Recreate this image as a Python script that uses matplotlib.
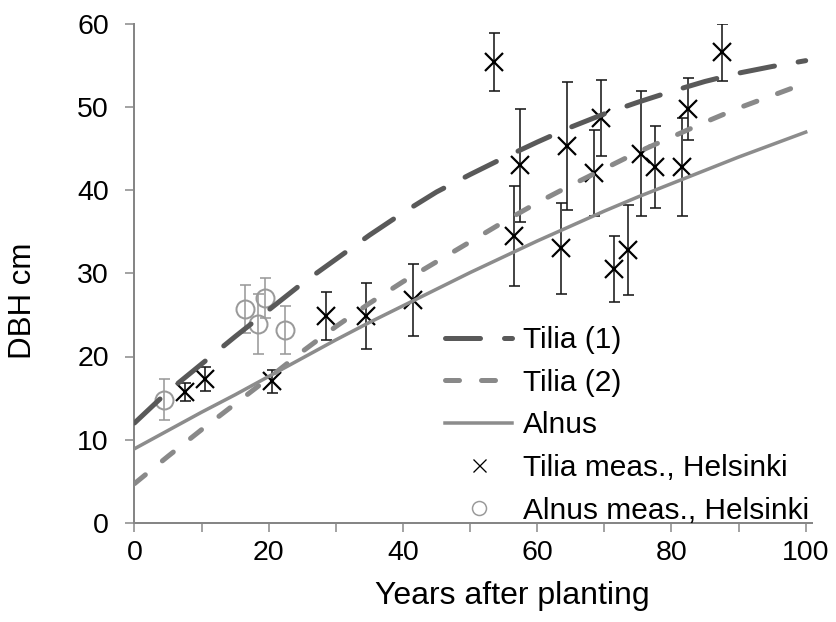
import matplotlib
matplotlib.use("Agg")
import matplotlib.pyplot as plt
from matplotlib.lines import Line2D

plt.rcParams['font.family'] = ['Liberation Sans', 'DejaVu Sans']
plt.rcParams['lines.scale_dashes'] = False

# ---- data ----
years = [0, 5, 10, 15, 20, 25, 30, 35, 40, 45, 50, 55, 60, 65, 70, 75, 80, 85, 90, 95, 100]
tilia1 = [12.0, 15.8, 19.1, 22.4, 25.6, 28.8, 31.7, 34.6, 37.3, 39.8, 41.9, 43.9,
          45.8, 47.6, 49.2, 50.6, 51.9, 53.1, 54.1, 54.9, 55.6]
tilia2 = [4.7, 8.0, 11.2, 14.3, 17.4, 20.6, 23.6, 26.4, 29.0, 31.4, 33.8, 36.2,
          38.5, 40.6, 42.6, 44.6, 46.4, 48.2, 49.9, 51.4, 52.9]
alnus = [8.9, 11.1, 13.3, 15.4, 17.6, 19.8, 22.0, 24.1, 26.1, 28.1, 30.1, 32.0,
         33.9, 35.7, 37.5, 39.2, 40.8, 42.4, 44.0, 45.5, 47.0]

tilia_meas_x = [7.5, 10.5, 20.5, 28.5, 34.5, 41.5, 53.5, 56.5, 57.5, 63.5, 64.5,
                68.5, 69.5, 71.5, 73.5, 75.5, 77.5, 81.5, 82.5, 87.5]
tilia_meas_y = [15.7, 17.3, 17.0, 24.9, 24.9, 26.8, 55.4, 34.5, 43.0, 33.0, 45.3,
                42.1, 48.7, 30.5, 32.8, 44.4, 42.8, 42.8, 49.8, 56.6]
tilia_meas_err = [1.1, 1.45, 1.4, 2.9, 4.0, 4.3, 3.5, 6.0, 6.8, 5.5, 7.7,
                  5.2, 4.6, 4.0, 5.4, 7.5, 4.9, 5.9, 3.7, 3.4]

alnus_meas_x = [4.4, 16.5, 18.4, 19.4, 22.4]
alnus_meas_y = [14.8, 25.7, 23.9, 27.0, 23.2]
alnus_meas_err = [2.45, 2.85, 3.65, 2.4, 2.9]

labels = ["Tilia (1)", "Tilia (2)", "Alnus", "Tilia meas., Helsinki", "Alnus meas., Helsinki"]
x_ticks = [0, 20, 40, 60, 80, 100]
y_ticks = [0, 10, 20, 30, 40, 50, 60]

# ---- styles ----
c_t1 = '#595959'
c_t2 = '#898989'
c_al = '#8c8c8c'
c_circ = '#9a9a9a'
axis_col = '#868686'
px = 0.72  # points per pixel at dpi 100

W, H = 837, 622
fig = plt.figure(figsize=(W / 100, H / 100), dpi=100)
x0, y0 = 134.5, 522.7
xpix_per = 6.712
ypix_per = 8.31
xmax = 100.9
ax = fig.add_axes([x0 / W, (H - y0) / H, xmax * xpix_per / W, 60 * ypix_per / H])

t1_style = dict(color=c_t1, lw=5 * px, linestyle=(0, (35 * px, 24 * px)),
                dash_capstyle='round', solid_capstyle='round')
t2_style = dict(color=c_t2, lw=5 * px, linestyle=(0, (14 * px, 22 * px)),
                dash_capstyle='round', solid_capstyle='round')
al_style = dict(color=c_al, lw=3.5 * px, linestyle='-')

# error bars & markers
ax.errorbar(tilia_meas_x, tilia_meas_y, yerr=tilia_meas_err, fmt='none',
            ecolor='#1a1a1a', elinewidth=1.6 * px, capsize=5.5 * px, capthick=1.6 * px, zorder=2)
ax.errorbar(alnus_meas_x, alnus_meas_y, yerr=alnus_meas_err, fmt='none',
            ecolor=c_circ, elinewidth=1.6 * px, capsize=5.5 * px, capthick=1.6 * px, zorder=2)
ax.plot(tilia_meas_x, tilia_meas_y, linestyle='none', marker='x', color='black',
        markersize=18 * px, markeredgewidth=2.2 * px, zorder=3)
ax.plot(alnus_meas_x, alnus_meas_y, linestyle='none', marker='o', markerfacecolor='none',
        markeredgecolor=c_circ, markersize=18 * px, markeredgewidth=2 * px, zorder=3)

# model curves
ax.plot(years, tilia1, zorder=4, **t1_style)
ax.plot(years, tilia2, zorder=4, **t2_style)
ax.plot(years, alnus, zorder=4, **al_style)

ax.set_xlim(0, xmax)
ax.set_ylim(0, 60)
ax.set_xticks(x_ticks)
ax.set_xticks([10, 30, 50, 70, 90], minor=True)
ax.set_yticks(y_ticks)
ax.set_xticklabels([str(v) for v in x_ticks])
ax.set_yticklabels([str(v) for v in y_ticks])

for s in ['top', 'right']:
    ax.spines[s].set_visible(False)
for s in ['left', 'bottom']:
    ax.spines[s].set_color(axis_col)
    ax.spines[s].set_linewidth(2 * px)
ax.tick_params(axis='both', which='both', direction='out', length=9 * px,
               width=1.5 * px, color=axis_col, labelsize=20.5)
ax.tick_params(axis='x', which='both', pad=6)
ax.tick_params(axis='y', which='both', pad=12)

fig.text(512 / W, 1 - 596 / H, "Years after planting", ha='center', va='center', fontsize=23)
fig.text(23 / W, 1 - 243 / H, "DBH cm", ha='center', va='top', rotation=90, fontsize=22.5)

handles = [
    Line2D([], [], **t1_style),
    Line2D([], [], **t2_style),
    Line2D([], [], **al_style),
    Line2D([], [], linestyle='none', marker='x', color='black', markersize=13 * px,
           markeredgewidth=1.3 * px),
    Line2D([], [], linestyle='none', marker='o', markerfacecolor='none',
           markeredgecolor=c_circ, markersize=14 * px, markeredgewidth=1.5 * px),
]
leg = ax.legend(handles, labels, loc='upper left',
                bbox_to_anchor=((445 - x0) / (xmax * xpix_per), (y0 - 326) / (60 * ypix_per)),
                frameon=False, fontsize=21.5, borderpad=0, borderaxespad=0,
                handlelength=2.25, handletextpad=0.37, labelspacing=0.49)
fig.savefig("out.png", dpi=100)
